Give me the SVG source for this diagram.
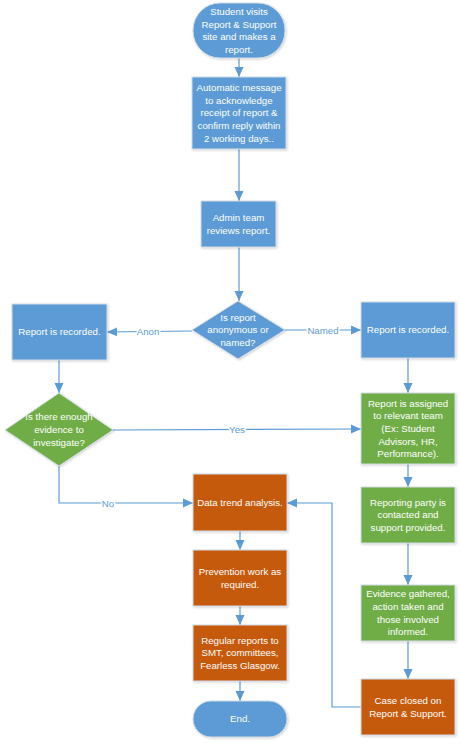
<svg xmlns="http://www.w3.org/2000/svg" width="460" height="746" viewBox="0 0 460 746">
<defs>
<marker id="arr" markerUnits="userSpaceOnUse" markerWidth="10" markerHeight="10" viewBox="0 0 10 10" refX="10" refY="5" orient="auto">
<path d="M0,0.5 L10,5 L0,9.5 Z" fill="#5B9BD5"/>
</marker>
<filter id="sh" x="-10%" y="-10%" width="130%" height="130%">
<feDropShadow dx="1" dy="1" stdDeviation="0.8" flood-color="#000" flood-opacity="0.18"/>
</filter>
</defs>
<style>
.blue{fill:#5B9BD5;stroke:#d3dbe4;stroke-width:1;filter:url(#sh)}
.green{fill:#70AD47;stroke:#d3dbe4;stroke-width:1;filter:url(#sh)}
.orange{fill:#C55A11;stroke:#d3dbe4;stroke-width:1;filter:url(#sh)}
.t{font-family:"Liberation Sans",Arial,sans-serif;font-size:9.7px;fill:#ffffff;text-anchor:middle}
.c{fill:none;stroke:#5B9BD5;stroke-width:1.2;marker-end:url(#arr)}
.lbl{font-family:"Liberation Sans",Arial,sans-serif;font-size:9.7px;fill:#5B9BD5;text-anchor:middle;stroke:#ffffff;stroke-width:3;paint-order:stroke}
</style>
<rect width="460" height="746" fill="#ffffff"/>
<g id="connectors">
<path class="c" d="M239,58 L239,77"/>
<path class="c" d="M239,149 L239,201"/>
<path class="c" d="M239,247 L239,301"/>
<path class="c" d="M192,331 L107,332"/>
<path class="c" d="M285,330 L361,330"/>
<path class="c" d="M59,360 L59,393"/>
<path class="c" d="M408,358 L408,393"/>
<path class="c" d="M113,430 L361,429"/>
<path class="c" d="M59,466 L59,503 L193,503"/>
<path class="c" d="M408,464 L408,487"/>
<path class="c" d="M408,543 L408,585"/>
<path class="c" d="M408,641 L408,679"/>
<path class="c" d="M361,707 L332,707 L332,503 L287,503"/>
<path class="c" d="M240,531 L240,550"/>
<path class="c" d="M240,606 L240,625"/>
<path class="c" d="M240,681 L240,701"/>
<text class="lbl" x="148" y="334.5">Anon</text>
<text class="lbl" x="323" y="333.5">Named</text>
<text class="lbl" x="237" y="432.5">Yes</text>
<text class="lbl" x="108" y="506.5">No</text>
</g>
<g id="start">
<rect class="blue" x="193" y="3" width="92" height="55" rx="27" ry="27"/>
<text class="t" x="239" y="15">Student visits</text>
<text class="t" x="239" y="27.6">Report &amp; Support</text>
<text class="t" x="239" y="40.2">site and makes a</text>
<text class="t" x="239" y="52.8">report.</text>
</g>
<g id="auto-message">
<rect class="blue" x="192" y="77" width="94" height="72"/>
<text class="t" x="239" y="91.2">Automatic message</text>
<text class="t" x="239" y="103.8">to acknowledge</text>
<text class="t" x="239" y="116.4">receipt of report &amp;</text>
<text class="t" x="239" y="129">confirm reply within</text>
<text class="t" x="239" y="141.6">2 working days..</text>
</g>
<g id="admin-review">
<rect class="blue" x="201" y="201" width="75" height="46"/>
<text class="t" x="238.5" y="221.1">Admin team</text>
<text class="t" x="238.5" y="233.7">reviews report.</text>
</g>
<g id="anon-or-named">
<polygon class="blue" points="238,301 285,330 238,359 192,330"/>
<text class="t" x="238" y="320.8">Is report</text>
<text class="t" x="238" y="333.4">anonymous or</text>
<text class="t" x="238" y="346">named?</text>
</g>
<g id="anon-recorded">
<rect class="blue" x="12" y="304" width="95" height="56"/>
<text class="t" x="59.5" y="335.4">Report is recorded.</text>
</g>
<g id="named-recorded">
<rect class="blue" x="361" y="302" width="94" height="56"/>
<text class="t" x="408" y="333.4">Report is recorded.</text>
</g>
<g id="enough-evidence">
<polygon class="green" points="59,393 113,430 59,466 5,430"/>
<text class="t" x="59" y="420.4">Is there enough</text>
<text class="t" x="59" y="433">evidence to</text>
<text class="t" x="59" y="445.6">investigate?</text>
</g>
<g id="assigned">
<rect class="green" x="361" y="393" width="94" height="71"/>
<text class="t" x="408" y="406.7">Report is assigned</text>
<text class="t" x="408" y="419.3">to relevant team</text>
<text class="t" x="408" y="431.9">(Ex: Student</text>
<text class="t" x="408" y="444.5">Advisors, HR,</text>
<text class="t" x="408" y="457.1">Performance).</text>
</g>
<g id="contacted">
<rect class="green" x="361" y="487" width="94" height="56"/>
<text class="t" x="408" y="505.8">Reporting party is</text>
<text class="t" x="408" y="518.4">contacted and</text>
<text class="t" x="408" y="531">support provided.</text>
</g>
<g id="evidence-gathered">
<rect class="green" x="361" y="585" width="94" height="56"/>
<text class="t" x="408" y="597.4">Evidence gathered,</text>
<text class="t" x="408" y="610">action taken and</text>
<text class="t" x="408" y="622.6">those involved</text>
<text class="t" x="408" y="635.2">informed.</text>
</g>
<g id="case-closed">
<rect class="orange" x="361" y="679" width="94" height="56"/>
<text class="t" x="408" y="704.1">Case closed on</text>
<text class="t" x="408" y="716.7">Report &amp; Support.</text>
</g>
<g id="data-trend">
<rect class="orange" x="193" y="474" width="94" height="57"/>
<text class="t" x="240" y="505.9">Data trend analysis.</text>
</g>
<g id="prevention">
<rect class="orange" x="193" y="550" width="94" height="56"/>
<text class="t" x="240" y="575.1">Prevention work as</text>
<text class="t" x="240" y="587.7">required.</text>
</g>
<g id="regular-reports">
<rect class="orange" x="193" y="625" width="94" height="56"/>
<text class="t" x="240" y="643.8">Regular reports to</text>
<text class="t" x="240" y="656.4">SMT, committees,</text>
<text class="t" x="240" y="669">Fearless Glasgow.</text>
</g>
<g id="end">
<rect class="blue" x="193" y="701" width="94" height="36" rx="18" ry="18"/>
<text class="t" x="240" y="722.4">End.</text>
</g>
</svg>
